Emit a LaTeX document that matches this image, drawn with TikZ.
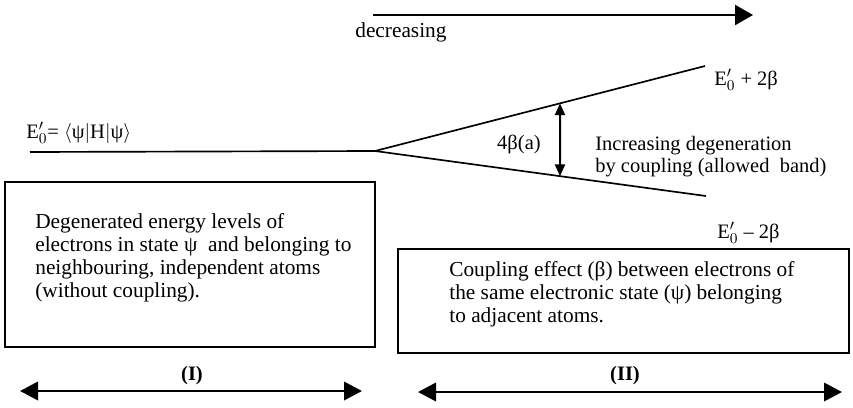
\documentclass[tikz,border=0pt]{standalone}
\usepackage{fontspec}
\setmainfont{Liberation Serif}
\usetikzlibrary{positioning}
\usetikzlibrary{arrows.meta,calc}

\begin{document}
\begin{tikzpicture}[x=0.6pt, y=-0.6pt,
        level/.style={line width=1pt},
        panel/.style={draw, line width=1.1pt, inner sep=0pt},
        bigarrow/.style={line width=1.5pt, -{Triangle[length=10.8pt, width=12pt]}},
        dblarrow/.style={line width=1.5pt, {Triangle[length=10.8pt, width=11pt]}-{Triangle[length=10.8pt, width=11pt]}},
        gaparrow/.style={line width=1.2pt, {Triangle[length=7pt, width=6pt]}-{Triangle[length=7pt, width=6pt]}},
        txt/.style={font=\fontsize{12.3}{12.9}\selectfont, inner sep=0pt, align=left},
        boxtxt/.style={font=\fontsize{12.8}{13.8}\selectfont, inner sep=0pt, align=left},
        boldtxt/.style={font=\fontsize{12.3}{12.9}\selectfont\bfseries, inner sep=0pt}]
        \useasboundingbox (0,0) rectangle (853,407);

        % direction of coupling
        \coordinate (decstart) at (373,15);
        \coordinate (decend)   at (753,15);
        \path[bigarrow] (decstart) edge (decend);
        \node[txt, font=\fontsize{12.8}{13.8}\selectfont, anchor=base west] (dec) at (355,37) {decreasing};

        % energy levels
        \node[txt, anchor=base west] (elevel) at (26,138) {E$'_0$= $\langle$ψ$|$H$|$ψ$\rangle$};
        \coordinate (lvlstart) at (30,152);
        \coordinate (fork)     at (375,151);
        \coordinate (upend)    at (705,66);
        \coordinate (lowend)   at (706,196);
        \draw[level] (lvlstart) -- (fork) -- (upend);
        \draw[level] (fork) -- (lowend);

        \node[txt, anchor=base west] (eplus)  at (714,85)  {E$'_0$ + 2β};
        \node[txt, anchor=base west] (eminus) at (717,238) {E$'_0$ -- 2β};

        \coordinate (gaptop) at ($(fork)!0.5606!(upend)$);
        \coordinate (gapbot) at ($(fork)!0.5589!(lowend)$);
        \path[gaparrow] (gaptop) edge (gapbot);
        \node[txt, anchor=base east] (gaplbl) at (541,149) {4β(a)};
        \node[txt, anchor=north west] (incr) at (595,136) {Increasing degeneration\\by coupling (allowed~ band)};

        % boxes
        \node[panel, minimum width=222pt, minimum height=99pt] (boxI) at (190,264.5) {};
        \node[boxtxt, anchor=north west] (textI) at (35,213) {Degenerated energy levels of\\electrons in state ψ~ and belonging to\\neighbouring, independent atoms\\(without coupling).};
        \node[panel, minimum width=270.6pt, minimum height=62.4pt] (boxII) at (623.5,301) {};
        \node[boxtxt, anchor=north west] (textII) at (449,261) {Coupling effect (β) between electrons of\\the same electronic state (ψ) belonging\\to adjacent atoms.};

        % regions
        \coordinate (regIa)  at (20,391);
        \coordinate (regIb)  at (362,391);
        \coordinate (regIIa) at (418,392);
        \coordinate (regIIb) at (842,392);
        \path[dblarrow] (regIa) edge (regIb);
        \path[dblarrow] (regIIa) edge (regIIb);
        \node[boldtxt, anchor=base] (regI)  at (192,380) {(I)};
        \node[boldtxt, anchor=base] (regII) at (625,380) {(II)};
\end{tikzpicture}
\end{document}
